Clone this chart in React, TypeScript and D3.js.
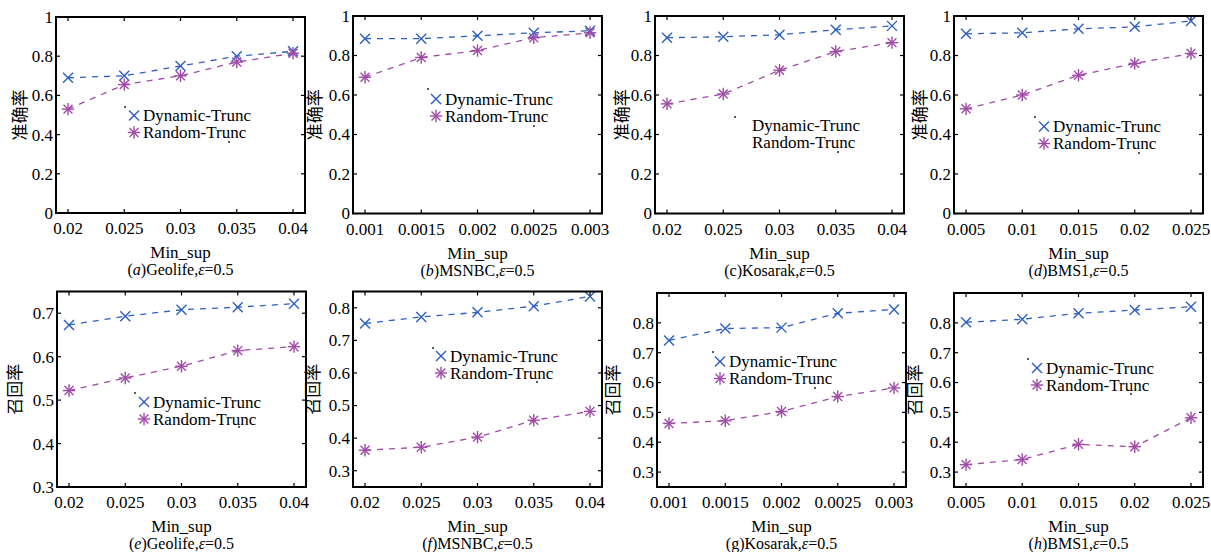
import React from 'react';
import * as d3 from 'd3';

// x axis values (Min_sup)
const supGeo = [0.02, 0.025, 0.03, 0.035, 0.04];
const supSmall = [0.001, 0.0015, 0.002, 0.0025, 0.003];
const supBms = [0.005, 0.01, 0.015, 0.02, 0.025];

// y ticks
const accTicks = [0, 0.2, 0.4, 0.6, 0.8, 1];
const recTicksGeo = [0.3, 0.4, 0.5, 0.6, 0.7];
const recTicks = [0.3, 0.4, 0.5, 0.6, 0.7, 0.8];

// accuracy (准确率)
const accGeoDyn = [0.69, 0.70, 0.75, 0.80, 0.825];
const accGeoRand = [0.53, 0.655, 0.70, 0.77, 0.815];
const accMsnbcDyn = [0.885, 0.885, 0.90, 0.915, 0.925];
const accMsnbcRand = [0.69, 0.79, 0.825, 0.89, 0.915];
const accKosDyn = [0.89, 0.895, 0.905, 0.93, 0.95];
const accKosRand = [0.555, 0.605, 0.725, 0.82, 0.865];
const accBmsDyn = [0.91, 0.915, 0.935, 0.945, 0.975];
const accBmsRand = [0.53, 0.60, 0.70, 0.76, 0.81];

// recall (召回率)
const recGeoDyn = [0.673, 0.693, 0.708, 0.714, 0.722];
const recGeoRand = [0.522, 0.551, 0.578, 0.614, 0.623];
const recMsnbcDyn = [0.752, 0.772, 0.786, 0.805, 0.835];
const recMsnbcRand = [0.363, 0.372, 0.403, 0.455, 0.482];
const recKosDyn = [0.741, 0.781, 0.784, 0.832, 0.845];
const recKosRand = [0.463, 0.472, 0.503, 0.553, 0.582];
const recBmsDyn = [0.802, 0.812, 0.832, 0.843, 0.854];
const recBmsRand = [0.325, 0.342, 0.393, 0.385, 0.482];

const seriesNames = ['Dynamic-Trunc', 'Random-Trunc'];

const BLUE = '#2f5fbf';
const PURPLE = '#a04aa8';
const SERIF = '"Liberation Serif", "DejaVu Serif", serif';
const CJK = '"Noto Sans CJK SC", sans-serif';

const panels = [
  { left: 56, top: 17, bottom: 213, xs: supGeo, dyn: accGeoDyn, rand: accGeoRand, yDomain: [0, 1], yTicks: accTicks, yLabel: '准确率', labX: -36, letter: 'a', italic: true, name: 'Geolife', leg: [134, 115.5], markers: true, dots: [[125, 107], [229, 142]] },
  { left: 353, top: 16, bottom: 213.5, xs: supSmall, dyn: accMsnbcDyn, rand: accMsnbcRand, yDomain: [0, 1], yTicks: accTicks, yLabel: '准确率', labX: -38, letter: 'b', italic: true, name: 'MSNBC', leg: [436, 99], markers: true, dots: [[428, 89], [534, 126]] },
  { left: 655, top: 16, bottom: 213.5, xs: supGeo, dyn: accKosDyn, rand: accKosRand, yDomain: [0, 1], yTicks: accTicks, yLabel: '准确率', labX: -33, letter: 'c', italic: false, name: 'Kosarak', leg: [743, 125.5], markers: false, dots: [[735, 117], [838, 152]] },
  { left: 954, top: 16, bottom: 213.5, xs: supBms, dyn: accBmsDyn, rand: accBmsRand, yDomain: [0, 1], yTicks: accTicks, yLabel: '准确率', labX: -34, letter: 'd', italic: true, name: 'BMS1', leg: [1044, 126.5], markers: true, dots: [[1035, 117], [1139, 153]] },
  { left: 57, top: 291.5, bottom: 487, xs: supGeo, dyn: recGeoDyn, rand: recGeoRand, yDomain: [0.3, 0.75], yTicks: recTicksGeo, yLabel: '召回率', labX: -42, letter: 'e', italic: true, name: 'Geolife', leg: [144, 402], markers: true, dots: [[135, 393], [239, 427]] },
  { left: 353, top: 291.5, bottom: 487, xs: supGeo, dyn: recMsnbcDyn, rand: recMsnbcRand, yDomain: [0.25, 0.85], yTicks: recTicks, yLabel: '召回率', labX: -40, letter: 'f', italic: true, name: 'MSNBC', leg: [441, 356], markers: true, dots: [[433, 348], [537, 382]] },
  { left: 657, top: 293, bottom: 487, xs: supSmall, dyn: recKosDyn, rand: recKosRand, yDomain: [0.25, 0.9], yTicks: recTicks, yLabel: '召回率', labX: -44, letter: 'g', italic: false, name: 'Kosarak', leg: [720, 361.5], markers: true, dots: [[713, 352], [815, 388]] },
  { left: 954, top: 293, bottom: 487, xs: supBms, dyn: recBmsDyn, rand: recBmsRand, yDomain: [0.25, 0.9], yTicks: recTicks, yLabel: '召回率', labX: -39, letter: 'h', italic: true, name: 'BMS1', leg: [1037, 368], markers: true, dots: [[1028, 359], [1131, 394]] },
];

const W = 249;

function Cross({ x, y }: { x: number; y: number }) {
  const r = 5;
  return (
    <g stroke={BLUE} strokeWidth={1.4}>
      <line x1={x - r} y1={y - r} x2={x + r} y2={y + r} />
      <line x1={x - r} y1={y + r} x2={x + r} y2={y - r} />
    </g>
  );
}

function Star({ x, y }: { x: number; y: number }) {
  const r = 6.2;
  const d = r * 0.72;
  return (
    <g stroke={PURPLE} strokeWidth={1.4}>
      <line x1={x - r} y1={y} x2={x + r} y2={y} />
      <line x1={x} y1={y - r} x2={x} y2={y + r} />
      <line x1={x - d} y1={y - d} x2={x + d} y2={y + d} />
      <line x1={x - d} y1={y + d} x2={x + d} y2={y - d} />
    </g>
  );
}

function Panel({ p }: { p: any }) {
  const x = d3.scaleLinear().domain([p.xs[0], p.xs[4]]).range([p.left + 12, p.left + W - 12]);
  const y = d3.scaleLinear().domain(p.yDomain).range([p.bottom, p.top]);
  const line = d3.line<number>().x((_, i) => x(p.xs[i])).y((v) => y(v));
  const cx = p.left + W / 2;
  const tk = 4;
  return (
    <g>
      {/* series lines */}
      <path d={line(p.dyn) || ''} fill="none" stroke={BLUE} strokeWidth={1.3} strokeDasharray="6,6" />
      <path d={line(p.rand) || ''} fill="none" stroke={PURPLE} strokeWidth={1.3} strokeDasharray="6,6" />
      {p.dyn.map((v: number, i: number) => <Cross key={'d' + i} x={x(p.xs[i])} y={y(v)} />)}
      {p.rand.map((v: number, i: number) => <Star key={'r' + i} x={x(p.xs[i])} y={y(v)} />)}
      {/* box */}
      <rect x={p.left} y={p.top} width={W} height={p.bottom - p.top} fill="none" stroke="#000" strokeWidth={2} />
      {/* x ticks */}
      {p.xs.map((v: number) => (
        <g key={'xt' + v}>
          <line x1={x(v)} x2={x(v)} y1={p.bottom} y2={p.bottom - tk} stroke="#000" strokeWidth={1.2} />
          <line x1={x(v)} x2={x(v)} y1={p.top} y2={p.top + tk} stroke="#000" strokeWidth={1.2} />
          <text x={x(v)} y={p.bottom + 21} textAnchor="middle" fontFamily={SERIF} fontSize={17}>{String(v)}</text>
        </g>
      ))}
      {/* y ticks */}
      {p.yTicks.map((v: number) => (
        <g key={'yt' + v}>
          <line x1={p.left} x2={p.left + tk} y1={y(v)} y2={y(v)} stroke="#000" strokeWidth={1.2} />
          <line x1={p.left + W} x2={p.left + W - tk} y1={y(v)} y2={y(v)} stroke="#000" strokeWidth={1.2} />
          <text x={p.left - 3} y={y(v)} dy="0.35em" textAnchor="end" fontFamily={SERIF} fontSize={17}>{String(v)}</text>
        </g>
      ))}
      {/* y label */}
      <text transform={`translate(${p.left + p.labX},${(p.top + p.bottom) / 2}) rotate(-90)`} textAnchor="middle" dy="0.35em" fontFamily={CJK} fontSize={17} fill="#000">{p.yLabel}</text>
      {/* x label */}
      <text x={cx} y={p.bottom + 45} textAnchor="middle" fontFamily={SERIF} fontSize={17}>Min_sup</text>
      {/* caption */}
      <text x={cx} y={p.bottom + 62} textAnchor="middle" fontFamily={SERIF} fontSize={16}>
        (<tspan fontStyle={p.italic ? 'italic' : 'normal'}>{p.letter}</tspan>){p.name},<tspan fontStyle="italic">ε</tspan>=0.5
      </text>
      {/* legend */}
      {seriesNames.map((s, i) => {
        const ly = p.leg[1] + i * 17;
        return (
          <g key={s}>
            {p.markers && (i === 0 ? <Cross x={p.leg[0]} y={ly} /> : <Star x={p.leg[0]} y={ly} />)}
            <text x={p.leg[0] + 9} y={ly} dy="0.35em" fontFamily={SERIF} fontSize={17}>{s}</text>
          </g>
        );
      })}
      {p.dots.map((d: number[], i: number) => (
        <rect key={'dot' + i} x={d[0] - 0.8} y={d[1] - 0.8} width={1.6} height={1.6} fill="#000" />
      ))}
    </g>
  );
}

export default function App() {
  return (
    <svg width={1211} height={552} style={{ position: 'absolute', left: 0, top: 0, background: '#fff' }}>
      <rect width={1211} height={552} fill="#fff" />
      {panels.map((p, i) => <Panel key={i} p={p} />)}
    </svg>
  );
}
